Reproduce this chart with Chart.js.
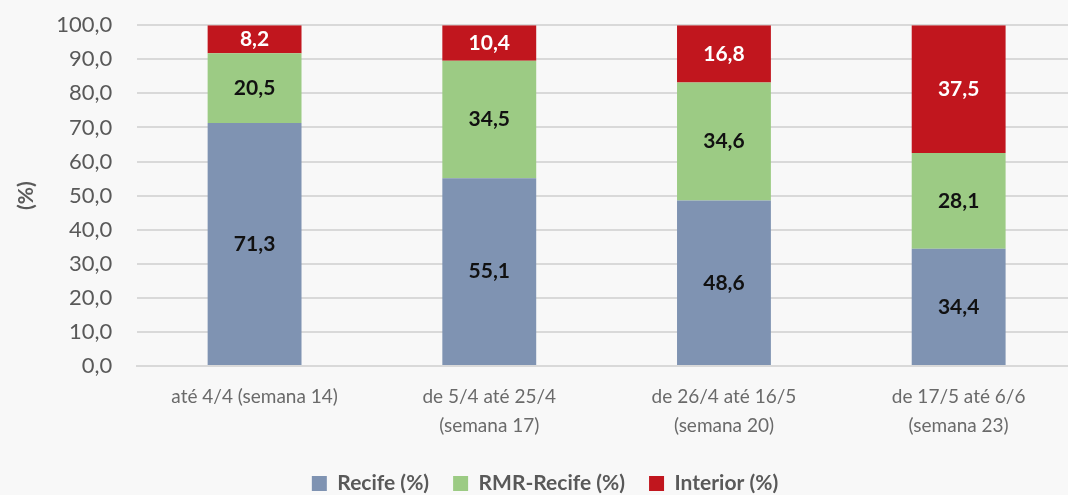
<!DOCTYPE html>
<html>
<head>
<meta charset="utf-8">
<script src="https://cdn.jsdelivr.net/npm/chart.js@4/dist/chart.umd.min.js"></script>
<style>
  html, body { margin: 0; padding: 0; background: #f8f8f8; overflow: hidden; }
  #wrap { width: 1076px; height: 511px; margin-top: -13px; }
</style>
</head>
<body>
<div id="wrap"><canvas id="chart" width="1076" height="511"></canvas></div>
<script>
// data
const periods = [
  'até 4/4 (semana 14)',
  ['de 5/4 até 25/4', '(semana 17)'],
  ['de 26/4 até 16/5', '(semana 20)'],
  ['de 17/5 até 6/6', '(semana 23)']
];
const recife = [71.3, 55.1, 48.6, 34.4];
const rmrRecife = [20.5, 34.5, 34.6, 28.1];
const interior = [8.2, 10.4, 16.8, 37.5];
const yTicks = [0, 10, 20, 30, 40, 50, 60, 70, 80, 90, 100];

const fmt = v => v.toFixed(1).replace('.', ',');
const grey = '#595959';

// write the value in the middle of each segment
const barLabels = {
  id: 'barLabels',
  afterDatasetsDraw(chart) {
    const c = chart.ctx;
    c.save();
    c.font = 'bold 21px Lato';
    c.textAlign = 'center';
    c.textBaseline = 'middle';
    chart.data.datasets.forEach((ds, i) => {
      chart.getDatasetMeta(i).data.forEach((bar, j) => {
        const mid = (bar.y + bar.base) / 2;
        c.fillStyle = ds.labelColor;
        c.fillText(fmt(ds.data[j]), bar.x, mid);
      });
    });
    c.restore();
  }
};

new Chart(document.getElementById('chart'), {
  type: 'bar',
  data: {
    labels: periods,
    datasets: [
      { label: 'Recife (%)', data: recife, backgroundColor: '#7f93b2', labelColor: '#111' },
      { label: 'RMR-Recife (%)', data: rmrRecife, backgroundColor: '#9ccb84', labelColor: '#111' },
      { label: 'Interior (%)', data: interior, backgroundColor: '#c1161e', labelColor: '#fff' }
    ]
  },
  options: {
    responsive: false,
    animation: false,
    categoryPercentage: 0.8,
    barPercentage: 0.5,
    layout: { padding: { left: 14, top: 0, bottom: -6 } },
    scales: {
      x: {
        stacked: true,
        grid: { display: false },
        border: { color: '#d9d9d9', width: 2 },
        ticks: { color: '#6a6a6a', font: { family: 'Lato', size: 19, lineHeight: 1.55 }, padding: 8, maxRotation: 0 }
      },
      y: {
        stacked: true,
        min: 0,
        max: 100,
        afterBuildTicks: axis => { axis.ticks = yTicks.map(v => ({ value: v })); },
        grid: { color: '#d9d9d9', lineWidth: 2, drawTicks: false },
        border: { display: false },
        ticks: { color: grey, font: { family: 'Lato', size: 22 }, padding: 25, callback: v => fmt(v) },
        title: { display: true, text: '(%)', color: grey, font: { family: 'Lato', size: 21, weight: 'bold' }, padding: { top: 0, bottom: -8 } }
      }
    },
    plugins: {
      legend: {
        position: 'bottom',
        labels: {
          color: grey,
          font: { family: 'Lato', size: 21, weight: 'bold' },
          boxWidth: 15,
          boxHeight: 15,
          padding: 24
        }
      },
      tooltip: { enabled: false }
    }
  },
  plugins: [barLabels]
});
</script>
</body>
</html>
